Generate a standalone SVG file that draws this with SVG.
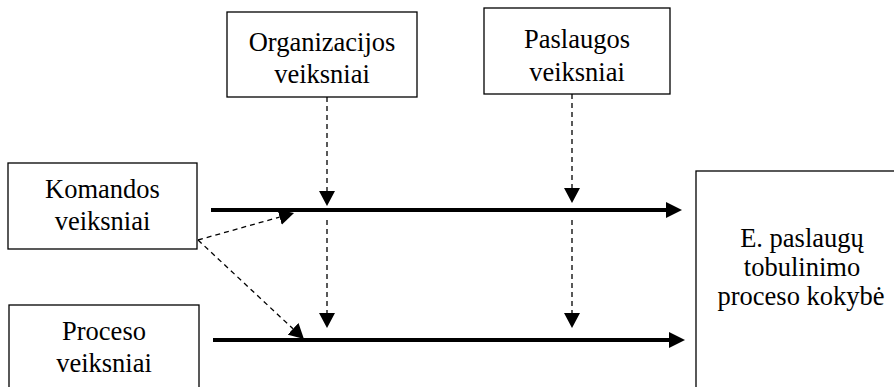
<svg xmlns="http://www.w3.org/2000/svg" width="894" height="387" viewBox="0 0 894 387">
<defs>
<marker id="thick" markerUnits="userSpaceOnUse" markerWidth="16" markerHeight="16" refX="0" refY="8" orient="auto"><path d="M0,0 L16,8 L0,16 z" fill="#000"/></marker>
<marker id="thin" markerUnits="userSpaceOnUse" markerWidth="15" markerHeight="16" refX="0" refY="8" orient="auto"><path d="M0,0 L15,8 L0,16 z" fill="#000"/></marker>
</defs>
<style>
.box{fill:#fff;stroke:#000;stroke-width:1.3}
.t{font-size:26.5px;fill:#000;text-anchor:middle}
.main{stroke:#000;stroke-width:4;fill:none;marker-end:url(#thick)}
.dash{stroke:#000;stroke-width:1.3;fill:none;stroke-dasharray:5,4;marker-end:url(#thin)}
</style>
<rect width="894" height="387" fill="#fff"/>
<g font-family="Liberation Serif, DejaVu Serif, serif">
<g id="organizacijos">
<rect class="box" x="227" y="12" width="190" height="85"/>
<text class="t" x="322" y="51">Organizacijos</text>
<text class="t" x="322" y="83">veiksniai</text>
</g>
<g id="paslaugos">
<rect class="box" x="484" y="8" width="186" height="86"/>
<text class="t" x="577" y="48">Paslaugos</text>
<text class="t" x="577" y="81">veiksniai</text>
</g>
<g id="komandos">
<rect class="box" x="8" y="163" width="189" height="86"/>
<text class="t" x="102.5" y="198">Komandos</text>
<text class="t" x="102.5" y="230">veiksniai</text>
</g>
<g id="proceso">
<rect class="box" x="9" y="305" width="190" height="100"/>
<text class="t" x="104" y="340">Proceso</text>
<text class="t" x="104" y="372">veiksniai</text>
</g>
<g id="kokybe">
<rect class="box" x="696" y="171" width="230" height="240"/>
<text class="t" x="802" y="247">E. paslaugų</text>
<text class="t" x="802" y="276">tobulinimo</text>
<text class="t" x="801" y="305">proceso kokybė</text>
</g>
</g>
<g id="connectors">
<line class="main" x1="211" y1="210" x2="666" y2="210"/>
<line class="main" x1="213" y1="340" x2="669" y2="340"/>
<line class="dash" x1="327" y1="97" x2="327" y2="191"/>
<line class="dash" x1="327" y1="220" x2="327" y2="313"/>
<line class="dash" x1="572" y1="94" x2="572" y2="188"/>
<line class="dash" x1="572" y1="220" x2="572" y2="313"/>
<line class="dash" x1="198" y1="240" x2="279.6" y2="217.1"/>
<line class="dash" x1="198" y1="240" x2="293" y2="328.8"/>
</g>
</svg>
